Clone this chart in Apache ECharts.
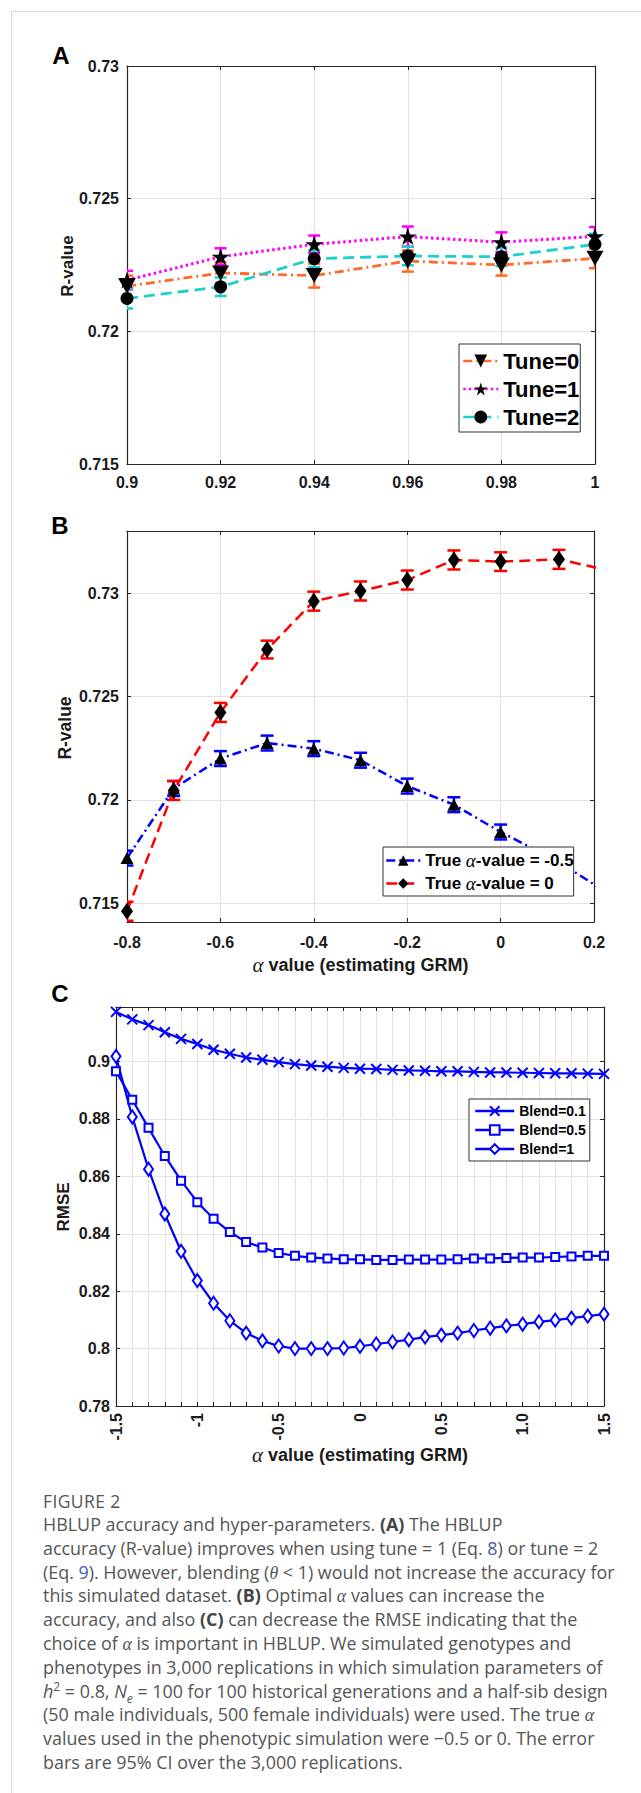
<!DOCTYPE html>
<html>
<head>
<meta charset="utf-8">
<script src="https://cdn.jsdelivr.net/npm/echarts@6/dist/echarts.min.js"></script>
<style>
html,body{margin:0;padding:0;background:#fff;width:641px;height:1793px;overflow:hidden;}
#frame{position:absolute;left:11px;top:11px;width:700px;height:1800px;border-top:1.5px solid #d9d9d9;border-left:1.5px solid #d9d9d9;}
#chart{position:absolute;left:0;top:0;width:641px;height:1472px;}
#fig{position:absolute;left:43px;top:1491px;height:20px;line-height:20px;color:#555;font-family:'Open Sans',sans-serif;font-size:17.5px;letter-spacing:0.4px;white-space:nowrap;}
#cap{position:absolute;left:43px;top:1513px;color:#555;font-family:'Open Sans',sans-serif;font-size:17.9px;line-height:23.8px;}
#cap div{white-space:nowrap;height:23.8px;}
#cap b{font-weight:bold;color:#444;}
#cap .lk{color:#4a5ba6;}
#cap .gr{font-family:'Liberation Serif',serif;font-style:italic;}
</style>
</head>
<body>
<div id="frame"></div>
<div id="chart"></div>
<div id="fig">FIGURE 2</div>
<div id="cap">
<div>HBLUP accuracy and hyper-parameters. <b>(A)</b> The HBLUP</div>
<div>accuracy (R-value) improves when using tune = 1 (Eq. <span class="lk">8</span>) or tune = 2</div>
<div>(Eq. <span class="lk">9</span>). However, blending (<span class="gr">θ</span> &lt; 1) would not increase the accuracy for</div>
<div>this simulated dataset. <b>(B)</b> Optimal <span class="gr">α</span> values can increase the</div>
<div>accuracy, and also <b>(C)</b> can decrease the RMSE indicating that the</div>
<div>choice of <span class="gr">α</span> is important in HBLUP. We simulated genotypes and</div>
<div>phenotypes in 3,000 replications in which simulation parameters of</div>
<div><i>h</i><sup style="font-size:12px;line-height:0">2</sup> = 0.8, <i>N</i><sub style="font-size:12px;line-height:0"><i>e</i></sub> = 100 for 100 historical generations and a half-sib design</div>
<div>(50 male individuals, 500 female individuals) were used. The true <span class="gr">α</span></div>
<div>values used in the phenotypic simulation were −0.5 or 0. The error</div>
<div>bars are 95% CI over the 3,000 replications.</div>
</div>
<script>
// ---------------- DATA ----------------
// Panel A
const tuneX = [0.9, 0.92, 0.94, 0.96, 0.98, 1.0];
const tune0 = [0.7217, 0.7222, 0.7221, 0.72265, 0.7225, 0.72275];
const tune0Err = [0.0004, 0.0004, 0.00045, 0.0004, 0.0004, 0.00037];
const tune1 = [0.72193, 0.72281, 0.72328, 0.72357, 0.72336, 0.72358];
const tune1Err = [0.00035, 0.00032, 0.00033, 0.00038, 0.00037, 0.00035];
const tune2 = [0.72124, 0.72168, 0.72274, 0.72284, 0.72281, 0.72328];
const tune2Err = [0.00038, 0.00035, 0.00032, 0.00035, 0.00035, 0.0004];
// Panel B
const alphaX = [-0.8, -0.7, -0.6, -0.5, -0.4, -0.3, -0.2, -0.1, 0, 0.125, 0.25];
const trueNeg05 = [0.71719, 0.72055, 0.722, 0.72275, 0.72248, 0.72192, 0.72067, 0.71977, 0.71845, 0.7170, 0.7152];
const trueNeg05Err = [0.00036, 0.00036, 0.00036, 0.00036, 0.00036, 0.00036, 0.00036, 0.00036, 0.00036, 0.00036, 0.00036];
const true0 = [0.71462, 0.72046, 0.72423, 0.72727, 0.72961, 0.7301, 0.73063, 0.7316, 0.73152, 0.73163, 0.7310];
const true0Err = [0.00046, 0.00046, 0.00046, 0.00043, 0.00046, 0.00046, 0.00046, 0.00046, 0.00045, 0.00046, 0.00046];
const bYTicks = [0.715, 0.72, 0.725, 0.73];
// Panel C
const rmseX = [-1.5,-1.4,-1.3,-1.2,-1.1,-1.0,-0.9,-0.8,-0.7,-0.6,-0.5,-0.4,-0.3,-0.2,-0.1,0,0.1,0.2,0.3,0.4,0.5,0.6,0.7,0.8,0.9,1.0,1.1,1.2,1.3,1.4,1.5];
const blend01 = [0.9173,0.9147,0.9127,0.9102,0.9079,0.9061,0.9041,0.9027,0.9014,0.9006,0.8998,0.8991,0.8986,0.8982,0.8978,0.8975,0.8974,0.8971,0.8969,0.8968,0.8966,0.8966,0.8964,0.8962,0.8962,0.8961,0.8960,0.8959,0.8959,0.8958,0.8957];
const blend05 = [0.8966,0.8867,0.8769,0.8671,0.8585,0.8510,0.8452,0.8406,0.8371,0.8352,0.8333,0.8323,0.8317,0.8314,0.8311,0.8311,0.8309,0.8309,0.8310,0.8310,0.8310,0.8311,0.8314,0.8314,0.8316,0.8317,0.8317,0.8319,0.8321,0.8323,0.8323];
const blend1 = [0.9018,0.8807,0.8625,0.8469,0.8339,0.8237,0.8158,0.8097,0.8054,0.8027,0.8009,0.8000,0.8000,0.8000,0.8002,0.8008,0.8016,0.8023,0.8031,0.8040,0.8047,0.8054,0.8063,0.8071,0.8079,0.8085,0.8093,0.8099,0.8106,0.8113,0.8120];
const cXLabels = [-1.5, -1, -0.5, 0, 0.5, 1, 1.5];
const cYTicks = [0.78, 0.8, 0.82, 0.84, 0.86, 0.88, 0.9];

// ---------------- STYLE HELPERS ----------------
const FONT = 'Liberation Sans';
const AX = '#262626';
const GRIDC = '#e3e3e3';
const C_T0 = '#ff6a2b', C_T1 = '#ff00ff', C_T2 = '#1ecfd0', C_BLUE = '#0000ff', C_RED = '#ff0000';
const zip = (xs, ys) => xs.map((x, i) => [x, ys[i]]);

const nameRich = {
  t: { fontFamily: FONT, fontWeight: 'bold', fontSize: 18, color: '#1a1a1a' },
  a: { fontFamily: 'Liberation Serif', fontStyle: 'italic', fontWeight: 'normal', fontSize: 21, color: '#1a1a1a' }
};

function axis(o) {
  const main = o.main;
  const a = {
    type: 'value', gridIndex: o.grid, position: o.pos, min: o.min, max: o.max,
    axisLine: { show: true, onZero: false, lineStyle: { color: AX, width: 1.2 } },
    axisTick: { show: true, inside: true, length: 4, lineStyle: { color: AX, width: 1 } },
    axisLabel: { show: !!main, color: '#1a1a1a', fontFamily: FONT, fontWeight: 'bold', fontSize: 16, margin: o.margin || 8 },
    splitLine: { show: !!main, lineStyle: { color: GRIDC, width: 1 } },
    animation: false
  };
  if (o.interval !== undefined) a.interval = o.interval;
  if (o.tickValues) a.axisTick.customValues = o.tickValues;
  if (o.labelValues) a.axisLabel.customValues = o.labelValues;
  if (o.formatter) a.axisLabel.formatter = o.formatter;
  if (o.rotate) a.axisLabel.rotate = o.rotate;
  if (main && o.name) {
    a.name = o.name; a.nameLocation = 'middle'; a.nameGap = o.nameGap;
    a.nameTextStyle = { color: '#1a1a1a', fontFamily: FONT, fontWeight: 'bold', fontSize: 17, rich: nameRich };
  }
  return a;
}

function errBars(xs, ys, es, color, xi, yi, cap, lw, xmax) {
  return {
    type: 'custom', xAxisIndex: xi, yAxisIndex: yi, z: 2, silent: true, clip: true, animation: false,
    data: xs.map((x, i) => [x, ys[i] - es[i], ys[i] + es[i]]),
    renderItem: function (params, api) {
      if (api.value(0) > xmax + 1e-9) return null;
      const lo = api.coord([api.value(0), api.value(1)]);
      const hi = api.coord([api.value(0), api.value(2)]);
      const h = cap / 2;
      const st = { stroke: color, lineWidth: lw };
      return { type: 'group', children: [
        { type: 'line', shape: { x1: lo[0], y1: lo[1], x2: hi[0], y2: hi[1] }, style: st },
        { type: 'line', shape: { x1: lo[0] - h, y1: lo[1], x2: lo[0] + h, y2: lo[1] }, style: st },
        { type: 'line', shape: { x1: hi[0] - h, y1: hi[1], x2: hi[0] + h, y2: hi[1] }, style: st }
      ]};
    }
  };
}

// small error-bar glyph drawn into a legend icon (decoration, not data)
function legendBar(cx, cy, half, gapHalf, cap, color) {
  const st = { stroke: color, lineWidth: 2 };
  return { type: 'group', z: 20, silent: true, children: [
    { type: 'line', shape: { x1: cx, y1: cy - half, x2: cx, y2: cy - gapHalf }, style: st },
    { type: 'line', shape: { x1: cx, y1: cy + gapHalf, x2: cx, y2: cy + half }, style: st },
    { type: 'line', shape: { x1: cx - cap, y1: cy - half, x2: cx + cap, y2: cy - half }, style: st },
    { type: 'line', shape: { x1: cx - cap, y1: cy + half, x2: cx + cap, y2: cy + half }, style: st }
  ]};
}

const STAR = 'path://M50,0 L61.2,34.5 L97.6,34.5 L68.2,55.9 L79.4,90.5 L50,69.1 L20.6,90.5 L31.8,55.9 L2.4,34.5 L38.8,34.5 Z';
const XMARK = 'path://M0,0 L10,10 M0,10 L10,0';

const alphaRich = {
  t: { fontFamily: FONT, fontWeight: 'bold', fontSize: 17, color: '#000' },
  a: { fontFamily: 'Liberation Serif', fontStyle: 'italic', fontWeight: 'normal', fontSize: 19, color: '#000' }
};

function label(txt, x, y, size, rot) {
  return { type: 'text', x: x, y: y, rotation: rot || 0, z: 10,
    style: { text: txt, fontFamily: FONT, fontWeight: 'bold', fontSize: size, fill: rot ? '#1a1a1a' : '#000', align: 'center', verticalAlign: 'middle' } };
}

const option = {
  animation: false,
  backgroundColor: 'transparent',
  grid: [
    { left: 127, top: 66, width: 468, height: 398, outerBoundsMode: 'none', containLabel: false },
    { left: 127, top: 531, width: 467, height: 391, outerBoundsMode: 'none', containLabel: false },
    { left: 116, top: 1007, width: 488, height: 399, outerBoundsMode: 'none', containLabel: false }
  ],
  xAxis: [
    axis({ grid: 0, pos: 'bottom', main: true, min: 0.9, max: 1, interval: 0.02, margin: 10 }),
    axis({ grid: 0, pos: 'top', min: 0.9, max: 1, interval: 0.02 }),
    axis({ grid: 1, pos: 'bottom', main: true, min: -0.8, max: 0.2, interval: 0.2, margin: 12,
           name: '{a|α}{t| value (estimating GRM)}', nameGap: 32 }),
    axis({ grid: 1, pos: 'top', min: -0.8, max: 0.2, interval: 0.2 }),
    axis({ grid: 2, pos: 'bottom', main: true, min: -1.5, max: 1.5, interval: 0.1, margin: 7, rotate: 90,
           labelValues: cXLabels, formatter: v => (Math.abs(v - 1) < 1e-9 ? '1.0' : String(+v.toFixed(1))),
           name: '{a|α}{t| value (estimating GRM)}', nameGap: 36 }),
    axis({ grid: 2, pos: 'top', min: -1.5, max: 1.5, interval: 0.1 })
  ],
  yAxis: [
    axis({ grid: 0, pos: 'left', main: true, min: 0.715, max: 0.73, interval: 0.005, margin: 8 }),
    axis({ grid: 0, pos: 'right', min: 0.715, max: 0.73, interval: 0.005 }),
    axis({ grid: 1, pos: 'left', main: true, min: 0.7141, max: 0.733, tickValues: bYTicks, labelValues: bYTicks, margin: 8 }),
    axis({ grid: 1, pos: 'right', min: 0.7141, max: 0.733, tickValues: bYTicks }),
    axis({ grid: 2, pos: 'left', main: true, min: 0.78, max: 0.919, tickValues: cYTicks, labelValues: cYTicks, margin: 6 }),
    axis({ grid: 2, pos: 'right', min: 0.78, max: 0.919, tickValues: cYTicks })
  ],
  legend: [
    { data: ['Tune=0', 'Tune=1', 'Tune=2'], orient: 'vertical', left: 459, top: 344, itemWidth: 35, itemHeight: 16, itemGap: 6,
      padding: [6, 1, 4, 3], borderColor: '#333', borderWidth: 1, backgroundColor: '#fff', borderRadius: 0, selectedMode: false,
      lineStyle: { width: 2.5 }, textStyle: { fontFamily: FONT, fontWeight: 'bold', fontSize: 22, color: '#000' } },
    { data: ['True α-value = -0.5', 'True α-value = 0'], orient: 'vertical', left: 383, top: 847, itemWidth: 34, itemHeight: 13, itemGap: 4,
      padding: [4, 0, 3, 2], borderColor: '#333', borderWidth: 1, backgroundColor: '#fff', borderRadius: 0, selectedMode: false,
      lineStyle: { width: 2.5 },
      formatter: n => '{t|True }{a|α}{t|' + n.replace('True α', '') + '}',
      textStyle: { fontFamily: FONT, fontWeight: 'bold', fontSize: 17, color: '#000', rich: alphaRich } },
    { data: ['Blend=0.1', 'Blend=0.5', 'Blend=1'], orient: 'vertical', left: 469, top: 1099, itemWidth: 39, itemHeight: 12, itemGap: 5,
      padding: [5, 4, 5, 5], borderColor: '#333', borderWidth: 1, backgroundColor: '#fff', borderRadius: 0, selectedMode: false,
      lineStyle: { width: 2.5 }, textStyle: { fontFamily: FONT, fontWeight: 'bold', fontSize: 14, color: '#000' } }
  ],
  graphic: [
    label('A', 61, 55, 24), label('B', 60, 525, 24), label('C', 60, 993, 24),
    label('R-value', 67, 266, 17, Math.PI / 2),
    label('R-value', 65, 728, 17.5, Math.PI / 2),
    label('RMSE', 63, 1207, 17, Math.PI / 2),
    legendBar(479.5, 361, 11, 7, 2.5, C_T0),
    legendBar(479.5, 389, 11, 7, 2.5, C_T1),
    legendBar(479.5, 417, 11, 7, 2.5, C_T2),
    legendBar(402, 860.5, 9.5, 5.5, 3, C_BLUE),
    legendBar(402, 883.5, 9.5, 5.5, 3, C_RED)
  ],
  series: [
    // Panel A
    errBars(tuneX, tune0, tune0Err, C_T0, 0, 0, 12, 2.5, 1),
    { type: 'line', name: 'Tune=0', xAxisIndex: 0, yAxisIndex: 0, data: zip(tuneX, tune0), z: 3,
      symbol: 'triangle', symbolRotate: 180, symbolSize: [17, 15], itemStyle: { color: '#000' },
      lineStyle: { color: C_T0, width: 2.8, type: [9, 4, 2, 4] } },
    errBars(tuneX, tune1, tune1Err, C_T1, 0, 0, 12, 2.5, 1),
    { type: 'line', name: 'Tune=1', xAxisIndex: 0, yAxisIndex: 0, data: zip(tuneX, tune1), z: 3,
      symbol: STAR, symbolSize: [18, 17], itemStyle: { color: '#000' },
      lineStyle: { color: C_T1, width: 3, type: [2.5, 3] } },
    errBars(tuneX, tune2, tune2Err, C_T2, 0, 0, 12, 2.5, 1),
    { type: 'line', name: 'Tune=2', xAxisIndex: 0, yAxisIndex: 0, data: zip(tuneX, tune2), z: 3,
      symbol: 'circle', symbolSize: 13, itemStyle: { color: '#000' },
      lineStyle: { color: C_T2, width: 2.8, type: [11, 6] } },
    // Panel B
    errBars(alphaX, trueNeg05, trueNeg05Err, C_BLUE, 2, 2, 13, 2.5, 0.2),
    { type: 'line', name: 'True α-value = -0.5', xAxisIndex: 2, yAxisIndex: 2, data: zip(alphaX, trueNeg05), z: 3, clip: true,
      symbol: 'triangle', symbolSize: [13, 12], itemStyle: { color: '#000' },
      lineStyle: { color: C_BLUE, width: 2.5, type: [9, 4, 2, 4] } },
    errBars(alphaX, true0, true0Err, C_RED, 2, 2, 13, 2.5, 0.2),
    { type: 'line', name: 'True α-value = 0', xAxisIndex: 2, yAxisIndex: 2, data: zip(alphaX, true0), z: 3, clip: true,
      symbol: 'diamond', symbolSize: [12, 17], itemStyle: { color: '#000' },
      lineStyle: { color: C_RED, width: 2.5, type: [11, 6] } },
    // Panel C
    { type: 'line', name: 'Blend=0.1', xAxisIndex: 4, yAxisIndex: 4, data: zip(rmseX, blend01), z: 3,
      symbol: XMARK, symbolSize: 10, itemStyle: { color: C_BLUE, borderColor: C_BLUE, borderWidth: 2 },
      lineStyle: { color: C_BLUE, width: 2.2 } },
    { type: 'line', name: 'Blend=0.5', xAxisIndex: 4, yAxisIndex: 4, data: zip(rmseX, blend05), z: 3,
      symbol: 'emptyRect', symbolSize: 8, itemStyle: { color: C_BLUE, borderColor: C_BLUE, borderWidth: 1.5 },
      lineStyle: { color: C_BLUE, width: 2.2 } },
    { type: 'line', name: 'Blend=1', xAxisIndex: 4, yAxisIndex: 4, data: zip(rmseX, blend1), z: 3,
      symbol: 'emptyDiamond', symbolSize: [9, 13], itemStyle: { color: C_BLUE, borderColor: C_BLUE, borderWidth: 1.5 },
      lineStyle: { color: C_BLUE, width: 2.2 } }
  ]
};

const chart = echarts.init(document.getElementById('chart'), null, { renderer: 'svg' });
chart.setOption(option);
</script>
</body>
</html>
